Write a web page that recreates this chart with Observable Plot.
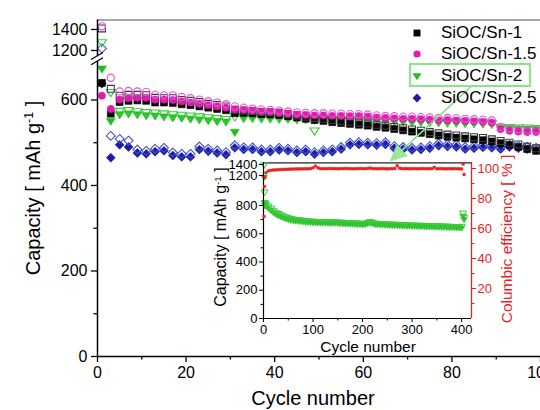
<!DOCTYPE html>
<html><head><meta charset="utf-8">
<script src="https://cdn.jsdelivr.net/npm/d3@7"></script>
<script src="https://cdn.jsdelivr.net/npm/@observablehq/plot@0.6"></script>
<style>
html,body{margin:0;padding:0;background:#fff;overflow:hidden;}
#wrap{position:relative;width:540px;height:410px;overflow:hidden;font-family:"Liberation Sans",Arial,Helvetica,sans-serif;color:#000;}
#wrap svg{position:absolute;}
.lab{position:absolute;transform:translate(-50%,-50%);white-space:nowrap;line-height:1;}
.rot{position:absolute;transform:translate(-50%,-50%) rotate(-90deg);white-space:nowrap;line-height:1;}
.sup{font-size:0.62em;vertical-align:0.55em;}
.leg{position:absolute;font-size:17px;line-height:20px;white-space:nowrap;}
</style></head><body><div id="wrap"></div>
<script>
// ---------- main chart data (every second cycle) ----------
const cycles = [1,3,5,7,9,11,13,15,17,19,21,23,25,27,29,31,33,35,37,39,41,43,45,47,49,51,53,55,57,59,61,63,65,67,69,71,73,75,77,79,81,83,85,87,89,91,93,95,97,99];
const sn1Dis = [1410,626,610,612,612,611,605,604,604,600,598,595,591,588,585,577,575,574,572,571,570,567,564,561,558,556,553,551,549,547,545,542,540,537,534,531,528,525,522,519,517,515,513,511,508,504,500,496,491,487];
const sn1Ch = [640,568,595,598,599,598,594,594,593,590,588,585,582,579,576,569,570,569,567,566,565,562,559,556,553,551,548,546,544,542,540,537,535,532,529,526,523,520,517,514,512,510,508,506,503,499,495,490,485,481];
const sn15Dis = [1430,652,620,621,620,619,612,611,611,607,604,601,597,594,590,585,582,580,578,577,575,573,571,570,569,569,568,568,567,567,566,564,563,562,561,561,560,559,558,558,557,556,555,554,552,537,533,531,530,530];
const sn15Ch = [610,579,601,604,605,605,601,601,600,597,594,591,588,585,582,578,577,575,573,572,570,568,566,565,564,564,563,563,562,562,561,559,558,557,556,556,555,554,553,553,552,551,550,549,547,532,528,526,525,525];
const sn2Dis = [1276,618,574,576,573,571,570,568,566,565,563,561,559,557,555,561,560,560,559,559,558,558,557,557,528,556,556,555,555,554,554,553,553,552,552,551,551,550,550,549,549,548,548,547,546,537,536,535,535,534];
const sn2Ch = [673,551,566,568,566,564,563,561,559,558,556,554,552,550,549,525,557,557,556,556,555,555,554,554,553,553,553,552,552,551,551,550,550,549,549,548,548,547,547,546,546,545,545,544,543,534,533,532,532,531];
const sn25Dis = [1220,516,509,505,484,481,486,488,477,474,474,491,486,482,478,494,489,489,484,484,488,486,482,484,478,482,484,490,500,501,500,499,501,492,490,488,489,492,498,496,495,490,492,494,493,490,495,492,490,488];
const sn25Ch = [638,465,495,490,476,474,479,481,470,467,467,484,480,476,472,488,484,484,479,479,483,481,477,479,473,477,479,485,495,496,495,494,496,487,485,483,484,487,493,491,490,485,487,489,488,485,490,487,485,483];
const seriesNames = ["SiOC/Sn-1","SiOC/Sn-1.5","SiOC/Sn-2","SiOC/Sn-2.5"];
const mainYTicks = [0,200,400,600,1200,1400];
const mainYMinor = [100,300,500];
const mainXTicks = [0,20,40,60,80,100];
const mainXMinor = [10,30,50,70,90];

// ---------- inset data (SiOC/Sn-2, long cycling) ----------
const insetCycles = [1,2,3,5,10,15,20,25,30,35,40,45,50,55,60,65,70,75,80,85,90,95,100,105,110,115,120,125,130,135,140,145,150,155,160,165,170,175,180,185,190,195,200,205,210,215,220,225,230,235,240,245,250,255,260,265,270,275,280,285,290,295,300,305,310,315,320,325,330,335,340,345,350,355,360,365,370,375,380,385,390,395,400,403,405];
const insetDis = [1390,895,818,810,795,780,765,752,742,733,725,718,712,707,703,700,698,696,694,692,690,689,687,686,684,683,686,685,684,683,683,684,682,681,680,679,678,677,677,676,674,673,672,673,678,685,679,674,672,671,670,669,668,667,667,666,665,665,664,663,662,661,661,660,659,659,658,658,657,656,657,656,655,655,654,653,652,652,651,650,650,649,652,745,715];
const insetCh = [1170,820,800,795,780,765,750,738,728,720,712,706,700,696,692,690,688,686,684,682,681,680,678,677,676,675,677,676,675,674,674,675,673,672,671,670,669,669,668,667,666,665,664,665,670,676,670,666,664,663,662,661,660,659,659,658,657,657,656,655,654,654,653,652,652,651,651,650,649,649,649,648,648,647,646,646,645,644,644,643,643,642,640,725,700];
const insetCE = [68,88,94,97.2,98.4,98.8,99.0,99.1,99.2,99.3,99.4,99.4,99.5,99.6,99.6,99.7,99.7,99.7,99.8,99.8,99.8,99.9,100.5,101.6,100.4,99.9,99.9,99.8,99.9,100.0,99.9,99.9,99.8,99.9,99.9,100.0,99.9,99.9,99.8,99.9,99.9,100.0,99.9,99.9,100.0,100.3,99.9,99.9,99.8,99.9,99.9,99.9,99.8,99.9,99.9,100.0,101.8,100.2,99.9,99.9,99.9,99.8,99.9,99.9,99.8,99.9,99.9,99.9,99.8,99.9,99.9,100.8,99.8,99.9,99.9,99.8,99.8,99.9,99.8,99.9,99.8,99.8,99.7,103,96];
const insetYTicks = [0,200,400,600,800,1200,1400];
const insetYMinor = [100,300,500,700];
const insetXTicks = [0,100,200,300,400];
const insetXMinor = [50,150,250,350];
const ceTicks = [20,40,60,80,100];
const ceMinor = [10,30,50,70,90];

// annotation arrow (data coordinates of main chart)
const arrowFrom = [84.6, 632];
const arrowTo = [66.2, 456];

// ---------- styling ----------
const FONT = '"Liberation Sans", Arial, Helvetica, sans-serif';
const fmt = d => String(d);
const triDown = {draw(ctx, size){ const r = Math.sqrt(size/Math.PI); ctx.moveTo(-1.2*r,-0.72*r); ctx.lineTo(1.2*r,-0.72*r); ctx.lineTo(0,1.15*r); ctx.closePath(); }};
const styles = {
  "SiOC/Sn-1":   {dis: sn1Dis,  ch: sn1Ch,  symbol:"square",   r:3.9, fill:"#000000", line:"#3a3a3a"},
  "SiOC/Sn-1.5": {dis: sn15Dis, ch: sn15Ch, symbol:"circle",   r:3.6, fill:"#e01cb0", line:"#e752d3"},
  "SiOC/Sn-2":   {dis: sn2Dis,  ch: sn2Ch,  symbol:triDown,    r:3.8, fill:"#1ebf1e", line:"#3ccb3c"},
  "SiOC/Sn-2.5": {dis: sn25Dis, ch: sn25Ch, symbol:"diamond2", r:4.0, fill:"#1b1ba8", line:"#4050cf"}
};
const drawOrder = ["SiOC/Sn-2.5","SiOC/Sn-2","SiOC/Sn-1","SiOC/Sn-1.5"];

const wrap = document.getElementById("wrap");

// ---------- main plot ----------
const dataMarks = [];
for (const name of drawOrder) {
  const s = styles[name];
  const chRows = cycles.map((c,i) => ({cycle:c, cap:s.ch[i]}));
  const disRows = cycles.map((c,i) => ({cycle:c, cap:s.dis[i]}));
  dataMarks.push(Plot.dot(chRows, {x:"cycle", y:"cap", symbol:s.symbol, r:s.r, fill:s.fill, stroke:s.fill, strokeWidth:0.6}));
  dataMarks.push(Plot.dot(disRows, {x:"cycle", y:"cap", symbol:s.symbol, r:s.r, fill:"none", stroke:s.line, strokeWidth:1.1}));
}
const main = Plot.plot({
  width:540, height:410, marginLeft:97, marginRight:0, marginTop:19.5, marginBottom:54,
  x:{domain:[0,100]},
  y:{type:"linear", domain:[0,690,1140,1490], range:[356,61,56.3,19.5]},
  style:{background:"transparent", fontFamily:FONT, fontSize:"16px", color:"#000", overflow:"visible"},
  marks:[
    Plot.ruleY([1490], {stroke:"#8a8a8a", strokeWidth:1.6}),
    ...dataMarks,
    Plot.ruleX([0], {stroke:"#000", strokeWidth:1.5}),
    Plot.ruleY([0], {stroke:"#000", strokeWidth:1.5}),
    Plot.axisY({ticks:mainYTicks, tickSize:6, tickPadding:4, label:null, tickFormat:fmt, strokeWidth:1.3, fontSize:16}),
    Plot.axisY({ticks:mainYMinor, tickSize:3.5, text:null, label:null, strokeWidth:1.3}),
    Plot.axisX({ticks:mainXTicks, tickSize:6, tickPadding:4, label:null, tickFormat:fmt, strokeWidth:1.3, fontSize:16}),
    Plot.axisX({ticks:mainXMinor, tickSize:3.5, text:null, label:null, strokeWidth:1.3})
  ]
});
main.style.left = "0px"; main.style.top = "0px";
wrap.appendChild(main);
{
  const sx = main.scale("x"), sy = main.scale("y");
  const g = d3.select(main).append("g");
  // axis break mark
  const x0 = sx.apply(0), yb = (sy.apply(690) + sy.apply(1140)) / 2;
  g.append("rect").attr("x", x0-2).attr("y", yb-2.5).attr("width", 4).attr("height", 5).attr("fill", "#fff");
  for (const o of [-2.6, 2.6]) {
    g.append("line").attr("x1", x0-6).attr("y1", yb+o+3.5).attr("x2", x0+6).attr("y2", yb+o-3.5)
      .attr("stroke", "#000").attr("stroke-width", 1.3);
  }
  // arrow from legend box to inset
  const ax1 = sx.apply(arrowFrom[0]), ay1 = sy.apply(arrowFrom[1]);
  const ax2 = sx.apply(arrowTo[0]), ay2 = sy.apply(arrowTo[1]);
  const dx = ax2-ax1, dy = ay2-ay1, len = Math.hypot(dx,dy), ux = dx/len, uy = dy/len;
  const hl = 16, hw = 7.5;
  const bx = ax2 - ux*hl, by = ay2 - uy*hl;
  g.append("line").attr("x1", ax1).attr("y1", ay1).attr("x2", bx).attr("y2", by)
    .attr("stroke", "#8ee08e").attr("stroke-width", 1.6);
  g.append("path").attr("d", `M${ax2},${ay2}L${bx - uy*hw},${by + ux*hw}L${bx + uy*hw},${by - ux*hw}Z`)
    .attr("fill", "#9be89b").attr("stroke", "#8ee08e").attr("stroke-width", 0.8);
}

// ---------- inset plots ----------
const IL = 213, IT = 157, IW = 313, IH = 201;
const inDisRows = insetCycles.map((c,i) => ({cycle:c, cap:insetDis[i]}));
const inChRows = insetCycles.map((c,i) => ({cycle:c, cap:insetCh[i]}));
const ceRows = insetCycles.map((c,i) => ({cycle:c, ce:insetCE[i]}));
const insetA = Plot.plot({
  width:IW, height:IH, marginLeft:50, marginRight:55, marginTop:5, marginBottom:40,
  x:{domain:[0,420]},
  y:{type:"linear", domain:[0,950,1100,1430], range:[161,26.8,23.5,5.3]},
  style:{background:"transparent", fontFamily:FONT, fontSize:"13px", color:"#000", overflow:"visible"},
  marks:[
    Plot.ruleY([1430], {stroke:"#222", strokeWidth:1.2}),
    Plot.dot(inChRows, {x:"cycle", y:"cap", symbol:triDown, r:2.8, fill:"#22bb22", stroke:"#22bb22", strokeWidth:0.5}),
    Plot.dot(inDisRows, {x:"cycle", y:"cap", symbol:triDown, r:3.0, fill:"none", stroke:"#3ccc3c", strokeWidth:1.0}),
    Plot.ruleX([0], {stroke:"#000", strokeWidth:1.2}),
    Plot.ruleY([0], {stroke:"#000", strokeWidth:1.2}),
    Plot.axisY({ticks:insetYTicks, tickSize:4, tickPadding:2, label:null, tickFormat:fmt, fontSize:13}),
    Plot.axisY({ticks:insetYMinor, tickSize:2.5, text:null, label:null}),
    Plot.axisX({ticks:insetXTicks, tickSize:4, tickPadding:2, label:null, tickFormat:fmt, fontSize:13}),
    Plot.axisX({ticks:insetXMinor, tickSize:2.5, text:null, label:null})
  ]
});
const RED = "#e8231f";
const insetB = Plot.plot({
  width:IW, height:IH, marginLeft:50, marginRight:55, marginTop:5, marginBottom:40,
  x:{domain:[0,420], axis:null},
  y:{domain:[0,104], range:[161,5]},
  style:{background:"transparent", fontFamily:FONT, fontSize:"13px", color:RED, overflow:"visible"},
  marks:[
    Plot.ruleX([420], {stroke:RED, strokeWidth:1.3}),
    Plot.dot(ceRows, {x:"cycle", y:"ce", symbol:"square", r:1.5, fill:RED, stroke:RED, strokeWidth:0.4}),
    Plot.axisY({anchor:"right", ticks:ceTicks, tickSize:4, tickPadding:2, label:null, tickFormat:fmt, fontSize:13, color:RED}),
    Plot.axisY({anchor:"right", ticks:ceMinor, tickSize:2.5, text:null, label:null, color:RED})
  ]
});
for (const p of [insetA, insetB]) { p.style.left = IL+"px"; p.style.top = IT+"px"; wrap.appendChild(p); }

// ---------- titles ----------
function addLab(html, cls, x, y, size, color) {
  const d = document.createElement("div");
  d.className = cls; d.innerHTML = html;
  d.style.left = x+"px"; d.style.top = y+"px"; d.style.fontSize = size+"px";
  if (color) d.style.color = color;
  wrap.appendChild(d);
}
addLab("Cycle number", "lab", 313, 398, 20);
addLab('Capacity [ mAh g<span class="sup">-1</span> ]', "rot", 33, 188, 20);
addLab("Cycle number", "lab", 368, 347, 15.5);
addLab('Capacity [ mAh g<span class="sup">-1</span> ]', "rot", 221, 237, 16);
addLab("Columbic efficiency [ % ]", "rot", 507, 239, 15.5, RED);

// ---------- legend ----------
const legY = [33, 54, 76, 98];
const legSvg = d3.select(wrap).append("svg").attr("width", 540).attr("height", 410)
  .style("left","0px").style("top","0px").style("pointer-events","none");
seriesNames.forEach((name, i) => {
  const s = styles[name];
  const sym = typeof s.symbol === "string"
    ? {square:d3.symbolSquare, circle:d3.symbolCircle, diamond2:d3.symbolDiamond2}[s.symbol]
    : s.symbol;
  legSvg.append("path").attr("d", d3.symbol(sym, Math.PI*s.r*s.r)())
    .attr("transform", `translate(417,${legY[i]})`).attr("fill", s.fill);
  const t = document.createElement("div");
  t.className = "leg"; t.textContent = name;
  t.style.left = "441px"; t.style.top = (legY[i]-10)+"px";
  wrap.appendChild(t);
});
legSvg.append("rect").attr("x", 410).attr("y", 64).attr("width", 120).attr("height", 22)
  .attr("fill", "none").attr("stroke", "#92e092").attr("stroke-width", 2.2);
</script></body></html>
